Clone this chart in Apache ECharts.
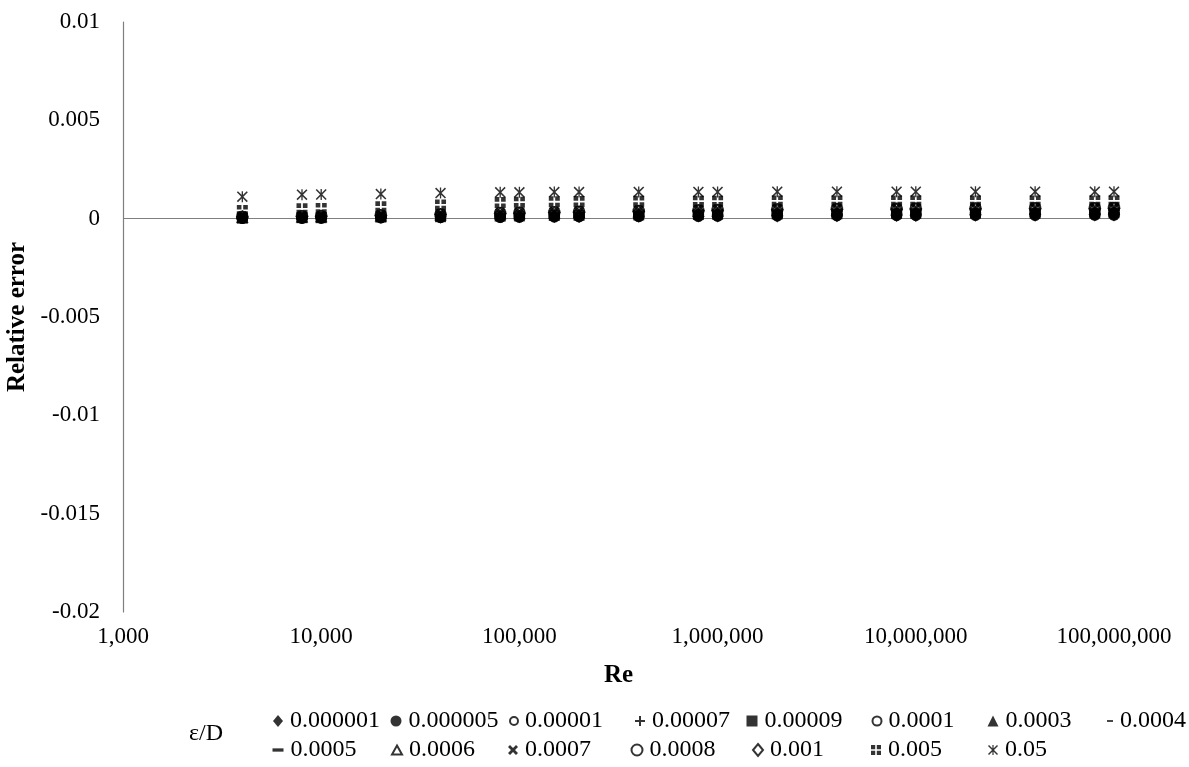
<!DOCTYPE html>
<html>
<head>
<meta charset="utf-8">
<script src="https://cdn.jsdelivr.net/npm/echarts@6/dist/echarts.min.js"></script>
<style>
  html, body { margin: 0; padding: 0; background: #fff; }
  #chart { width: 1189px; height: 767px; }
</style>
</head>
<body>
<div id="chart"></div>
<script>
// Reynolds numbers at which the relative error was evaluated
const reValues = [4000, 8000, 10000, 20000, 40000, 80000, 100000, 150000, 200000, 400000,
  800000, 1000000, 2000000, 4000000, 8000000, 10000000, 20000000, 40000000, 80000000, 100000000];

// Relative roughness values (legend entries)
const epsLabels = ['0.000001', '0.000005', '0.00001', '0.00007', '0.00009', '0.0001', '0.0003', '0.0004',
  '0.0005', '0.0006', '0.0007', '0.0008', '0.001', '0.005', '0.05'];

// Relative error per relative roughness, one value per Re above
const err_000001 = [0.00001,0.00002,0.00002,0.00003,0.00004,0.00005,0.00005,0.00006,0.00006,0.00007,0.00008,0.00008,0.00009,0.0001,0.00011,0.00011,0.00012,0.00012,0.00013,0.00013];
const err_000005 = [0.00001,0.00002,0.00003,0.00004,0.00005,0.00006,0.00007,0.00008,0.00009,0.0001,0.00011,0.00012,0.00013,0.00014,0.00015,0.00015,0.00016,0.00016,0.00017,0.00017];
const err_00001  = [0.00002,0.00003,0.00003,0.00005,0.00006,0.00008,0.00009,0.0001,0.00011,0.00012,0.00014,0.00015,0.00016,0.00017,0.00018,0.00019,0.0002,0.0002,0.00021,0.00021];
const err_00007  = [0.00003,0.00004,0.00005,0.00007,0.00009,0.00012,0.00013,0.00015,0.00016,0.00018,0.0002,0.00021,0.00023,0.00024,0.00025,0.00026,0.00026,0.00027,0.00027,0.00028];
const err_00009  = [0.00003,0.00005,0.00005,0.00008,0.0001,0.00013,0.00014,0.00016,0.00017,0.00019,0.00021,0.00022,0.00024,0.00025,0.00026,0.00027,0.00028,0.00028,0.00029,0.0003];
const err_0001   = [0.00004,0.00005,0.00006,0.00008,0.00011,0.00014,0.00015,0.00017,0.00018,0.0002,0.00022,0.00023,0.00025,0.00026,0.00027,0.00028,0.00029,0.00029,0.0003,0.00031];
const err_0003   = [0.00005,0.00007,0.00008,0.00011,0.00015,0.00019,0.0002,0.00023,0.00025,0.00028,0.00031,0.00032,0.00034,0.00036,0.00037,0.00038,0.00039,0.00039,0.0004,0.0004];
const err_0004   = [0.00006,0.00008,0.00009,0.00012,0.00017,0.00021,0.00022,0.00025,0.00027,0.0003,0.00033,0.00034,0.00036,0.00038,0.00039,0.0004,0.00041,0.00042,0.00042,0.00043];
const err_0005   = [0.00007,0.00009,0.0001,0.00014,0.00018,0.00023,0.00024,0.00027,0.00029,0.00033,0.00036,0.00037,0.00039,0.00041,0.00042,0.00043,0.00044,0.00045,0.00045,0.00046];
const err_0006   = [0.00008,0.0001,0.00011,0.00015,0.0002,0.00025,0.00026,0.00029,0.00031,0.00035,0.00038,0.00039,0.00042,0.00044,0.00045,0.00046,0.00047,0.00048,0.00048,0.00049];
const err_0007   = [0.00011,0.00013,0.00014,0.00019,0.00024,0.0003,0.00032,0.00035,0.00037,0.00042,0.00045,0.00047,0.0005,0.00052,0.00053,0.00054,0.00055,0.00056,0.00056,0.00057];
const err_0008   = [0.0001,0.00012,0.00013,0.00017,0.00022,0.00028,0.0003,0.00033,0.00035,0.00039,0.00042,0.00044,0.00047,0.00049,0.0005,0.00051,0.00052,0.00053,0.00053,0.00054];
const err_001    = [0.00009,0.00011,0.00012,0.00016,0.00021,0.00026,0.00028,0.00031,0.00033,0.00037,0.0004,0.00042,0.00045,0.00047,0.00048,0.00049,0.0005,0.00051,0.00051,0.00052];
const err_005    = [0.00042,0.0005,0.00052,0.0006,0.0007,0.00082,0.00084,0.00086,0.00087,0.00088,0.00089,0.00089,0.0009,0.0009,0.0009,0.0009,0.0009,0.0009,0.0009,0.0009];
const err_05     = [0.00112,0.00122,0.00123,0.00125,0.0013,0.00134,0.00134,0.00135,0.00135,0.00136,0.00136,0.00136,0.00137,0.00137,0.00137,0.00137,0.00137,0.00137,0.00137,0.00137];

const errorSets = [err_000001, err_000005, err_00001, err_00007, err_00009, err_0001, err_0003, err_0004,
  err_0005, err_0006, err_0007, err_0008, err_001, err_005, err_05];

// Y tick values shown on the vertical axis
const yTicks = [0.01, 0.005, 0, -0.005, -0.01, -0.015, -0.02];

// Marker shapes
const PLUS = 'path://M4,0H6V4H10V6H6V10H4V6H0V4H4Z';
const BOLDX = 'path://M0,2L2,0L5,3L8,0L10,2L7,5L10,8L8,10L5,7L2,10L0,8L3,5Z';
const STAR = 'path://M0,1L1,0L5,4L9,0L10,1L6,5L10,9L9,10L5,6L1,10L0,9L4,5Z M4.4,0H5.6V10H4.4Z';
const DASH = 'path://M0,0H10V3H0Z';
const DOTSQ = 'path://M0,0H4.2V4.2H0Z M5.8,0H10V4.2H5.8Z M0,5.8H4.2V10H0Z M5.8,5.8H10V10H5.8Z';

const solid = { color: '#000' };
const hollow = { color: '#fff', borderColor: '#000', borderWidth: 1.6 };

// Hollow markers sit underneath the filled ones (lower z)
const markerStyles = [
  { symbol: 'diamond', size: 11, item: solid, z: 3, leg: [10, 12] },
  { symbol: 'circle', size: 11, item: solid, z: 3, leg: [11, 11] },
  { symbol: 'circle', size: 10, item: hollow, z: 2, leg: [8, 8] },
  { symbol: PLUS, size: 11, item: solid, z: 3, leg: [10, 10] },
  { symbol: 'rect', size: 11, item: solid, z: 3, leg: [11, 11] },
  { symbol: 'circle', size: 10, item: hollow, z: 2, leg: [9, 9] },
  { symbol: 'triangle', size: 11, item: solid, z: 3, leg: [11, 11] },
  { symbol: DASH, size: [6, 2.5], item: solid, z: 3, leg: [6, 3] },
  { symbol: DASH, size: [11, 3], item: solid, z: 3, leg: [11, 4] },
  { symbol: 'triangle', size: 10, item: hollow, z: 2, leg: [10, 9] },
  { symbol: BOLDX, size: 11, item: solid, z: 3, leg: [10, 11] },
  { symbol: 'circle', size: 11, item: hollow, z: 2, leg: [11, 11] },
  { symbol: 'diamond', size: 11, item: hollow, z: 2, leg: [10, 12] },
  { symbol: DOTSQ, size: 11, item: solid, z: 4, leg: [10, 10] },
  { symbol: STAR, size: 11, item: solid, z: 4, leg: [10, 10] }
];

// Legend slot positions (left edge of the icon, vertical centre of the row)
const legendSlots = [
  [273, 719], [391, 719], [508, 719], [635, 719], [747, 719], [871, 719], [988, 719], [1105, 719],
  [273, 748], [391, 748], [508, 748], [631, 748], [752, 748], [871, 748], [988, 748]
];

const FONT = '"Liberation Serif", "DejaVu Serif", serif';

const series = epsLabels.map((name, k) => {
  const st = markerStyles[k];
  const s = {
    name: name,
    type: 'scatter',
    symbol: st.symbol,
    symbolSize: st.size,
    itemStyle: st.item,
    z: st.z,
    emphasis: { disabled: true },
    data: reValues.map((re, i) => [re, errorSets[k][i]])
  };
  if (k === 0) {
    s.markLine = {
      silent: true,
      symbol: 'none',
      z: 1,
      label: { show: false },
      lineStyle: { color: '#7f7f7f', type: 'solid', width: 1.2 },
      data: [{ yAxis: 0 }],
      animation: false
    };
  }
  return s;
});

const legends = epsLabels.map((name, k) => ({
  left: legendSlots[k][0] + (10 - markerStyles[k].leg[0]) / 2,
  top: legendSlots[k][1] - 10,
  padding: 0,
  itemWidth: markerStyles[k].leg[0],
  itemHeight: markerStyles[k].leg[1],
  itemGap: 0,
  selectedMode: false,
  textStyle: { fontFamily: FONT, fontSize: 24, color: '#000', padding: [0, 0, 0, 2] },
  data: [{ name: name, icon: markerStyles[k].symbol }]
}));

const chart = echarts.init(document.getElementById('chart'), null, { renderer: 'canvas' });
chart.setOption({
  animation: false,
  backgroundColor: '#fff',
  title: {
    text: 'ε/D',
    left: 189,
    top: 722,
    padding: 0,
    textStyle: { fontFamily: FONT, fontSize: 24, fontWeight: 'normal', color: '#000' }
  },
  grid: { left: 123, right: 75, top: 22, bottom: 155, containLabel: false, outerBoundsMode: 'none' },
  xAxis: {
    type: 'log',
    logBase: 10,
    min: 1000,
    max: 100000000,
    name: 'Re',
    nameLocation: 'middle',
    nameGap: 51,
    nameTextStyle: { fontFamily: FONT, fontSize: 25, fontWeight: 'bold', color: '#000' },
    axisLine: { show: false, onZero: false },
    axisTick: { show: false },
    splitLine: { show: false },
    minorTick: { show: false },
    axisLabel: {
      margin: 13,
      fontFamily: FONT,
      fontSize: 23,
      color: '#000',
      formatter: v => Math.round(v).toLocaleString('en-US')
    }
  },
  yAxis: {
    type: 'value',
    min: -0.02,
    max: 0.01,
    interval: 0.005,
    name: 'Relative error',
    nameLocation: 'middle',
    nameRotate: 90,
    nameGap: 92,
    nameTextStyle: { fontFamily: FONT, fontSize: 25, fontWeight: 'bold', color: '#000' },
    axisLine: { show: true, onZero: false, lineStyle: { color: '#7f7f7f', width: 1.2 } },
    axisTick: { show: false },
    splitLine: { show: false },
    axisLabel: {
      margin: 23,
      fontFamily: FONT,
      fontSize: 23,
      color: '#000',
      formatter: v => {
        const t = yTicks.find(y => Math.abs(y - v) < 1e-9);
        return t === undefined ? '' : String(t);
      }
    }
  },
  legend: legends,
  series: series
});
</script>
</body>
</html>
